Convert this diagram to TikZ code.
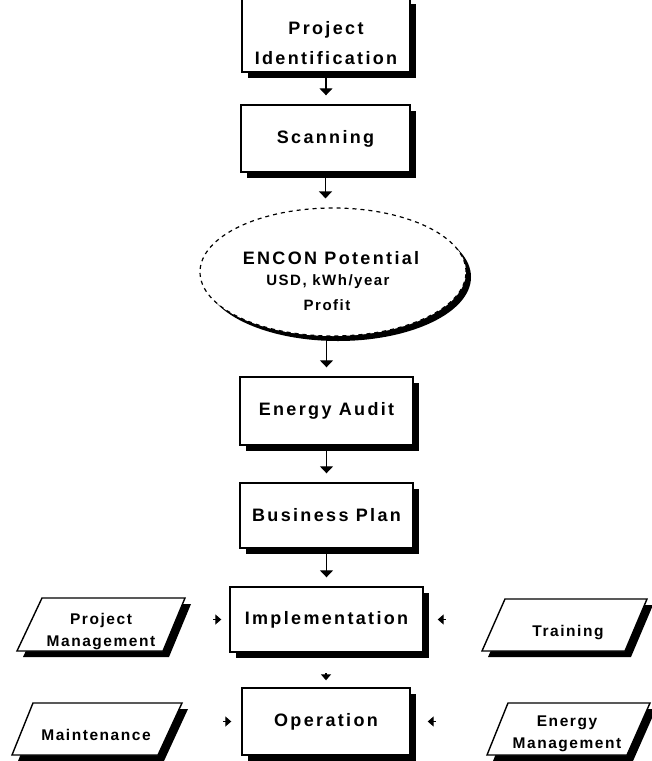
\documentclass[tikz,border=0pt]{standalone}
\usepackage{fontspec}
\setmainfont{Liberation Sans}
\newfontfamily\diagfont[LetterSpace=13]{Liberation Sans Bold}
\newfontfamily\diagsmall[LetterSpace=10]{Liberation Sans Bold}
\usetikzlibrary{shapes.geometric,shadows,arrows.meta,calc}
\begin{document}
\begin{tikzpicture}[x=1pt,y=-1pt,
  shade6/.style={drop shadow={shadow xshift=6pt,shadow yshift=-6pt,fill=black,opacity=1}},
  box/.style={rectangle,draw,line width=1.4pt,fill=white,inner sep=0pt,shade6,
    font=\diagfont\fontsize{18}{22}\selectfont,align=center},
  paraline/.style={draw,line width=1.4pt,fill=white,line join=miter},
  parashadow/.style={fill=black},
  paratext/.style={inner sep=0pt,align=center,font=\diagsmall\fontsize{15.5}{22}\selectfont},
  ell/.style={ellipse,draw,line width=1.2pt,dash pattern=on 4pt off 4pt,fill=white,inner sep=0pt,
    drop shadow={shadow xshift=5pt,shadow yshift=-5pt,fill=black,opacity=1}},
  label/.style={inner sep=0pt,align=center},
  arr/.style={line width=1.3pt,-{Triangle[width=13pt,length=7pt]},shorten >=9pt},
  stub/.style={line width=1.3pt,-{Triangle[width=10pt,length=6pt]}}
]
\useasboundingbox (0,0) rectangle (652,761);

% main column
\node[box,minimum width=168,minimum height=74] (pid) at (326,35) {};
\node[label,font=\diagfont\fontsize{18}{30}\selectfont] (pidtext) at (326,43) {Project\\Identification};
\node[box,minimum width=169,minimum height=67] (scan) at (325.5,138.5) {Scanning};
\node[ell,minimum width=266,minimum height=128] (encon) at (333,272) {};
\node[label,font=\diagfont\fontsize{18}{22}\selectfont] (enconA) at (331,258) {ENCON Potential};
\node[label,font=\diagsmall\fontsize{15}{18}\selectfont] (enconB) at (328,282) {USD, kWh/year};
\node[label,font=\diagsmall\fontsize{15}{18}\selectfont] (enconC) at (327,305) {Profit};
\node[box,minimum width=173,minimum height=68] (audit) at (326.5,411) {Energy Audit};
\node[box,minimum width=173,minimum height=65] (plan) at (326.5,515.5) {Business Plan};
\node[box,minimum width=193,minimum height=65] (impl) at (326.5,619.5) {Implementation};
\node[box,minimum width=168,minimum height=67] (op) at (326,721.5) {Operation};

% side inputs (parallelograms)
\fill[parashadow] (23,657) -- (169,657) -- (191,604) -- (48,604) -- cycle;
\draw[paraline] (17,651) -- (163,651) -- (185,598) -- (42,598) -- cycle;
\node[paratext] (pm) at (101,632) {Project\\Management};

\fill[parashadow] (488,657) -- (631,657) -- (653,605) -- (511,605) -- cycle;
\draw[paraline] (482,651) -- (625,651) -- (647,599) -- (505,599) -- cycle;
\node[paratext] (tr) at (568,633) {Training};

\fill[parashadow] (18,761) -- (164,761) -- (188,709) -- (39,709) -- cycle;
\draw[paraline] (12,755) -- (158,755) -- (182,703) -- (33,703) -- cycle;
\node[paratext] (mt) at (96,735) {Maintenance};

\fill[parashadow] (493,761) -- (633,761) -- (656,709) -- (514,709) -- cycle;
\draw[paraline] (487,755) -- (627,755) -- (650,703) -- (508,703) -- cycle;
\node[paratext] (em) at (567,734) {Energy\\Management};

% vertical connectors
\draw[arr] (pid.south) -- (pid.south |- scan.north);
\draw[arr] (scan.south) -- (scan.south |- encon.north);
\draw[arr] (audit.north |- encon.south) -- (audit.north);
\draw[arr] (audit.south) -- (audit.south |- plan.north);
\draw[arr] (plan.south) -- (plan.south |- impl.north);
\draw[stub] ($(op.north)+(0,-14)$) -- ($(op.north)+(0,-7)$);

% side arrowheads
\draw[stub] ($(impl.west)+(-16,0)$) -- ($(impl.west)+(-8,0)$);
\draw[stub] ($(impl.east)+(22,0)$) -- ($(impl.east)+(14,0)$);
\draw[stub] ($(op.west)+(-18,0)$) -- ($(op.west)+(-10,0)$);
\draw[stub] ($(op.east)+(25,0)$) -- ($(op.east)+(17,0)$);
\end{tikzpicture}
\end{document}
